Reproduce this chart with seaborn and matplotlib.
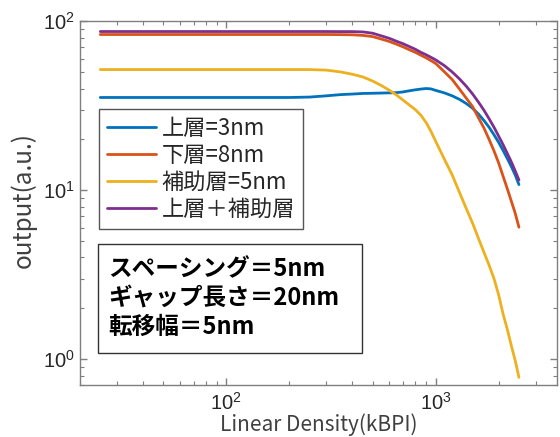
import numpy as np
import pandas as pd
import matplotlib
matplotlib.use("Agg")
import matplotlib.pyplot as plt
from matplotlib.patches import Rectangle
from matplotlib.ticker import LogLocator, NullFormatter
import seaborn as sns

# Linear density sample points (kBPI)
density = [25, 50, 100, 150, 200, 250, 300, 350, 400, 450, 500, 550, 600, 650, 700,
           750, 800, 850, 900, 950, 1000, 1100, 1200, 1300, 1400, 1500, 1600, 1700,
           1800, 1900, 2000, 2100, 2200, 2300, 2400, 2500]

# Output (a.u.) for each layer configuration
upper_3nm = [35.4, 35.4, 35.4, 35.4, 35.4, 35.6, 36.2, 36.8, 37.1, 37.4, 37.5, 37.6,
             37.7, 37.8, 38.2, 38.8, 39.3, 39.7, 40.0, 39.8, 39.0, 37.7, 36.2, 34.5,
             32.6, 30.6, 28.3, 25.9, 23.6, 21.3, 19.2, 17.2, 15.4, 13.8, 12.3, 10.8]
lower_8nm = [83.5, 83.5, 83.5, 83.5, 83.5, 83.5, 83.5, 83.4, 83.2, 82.5, 81.2, 78.5,
             76.0, 73.2, 70.5, 67.8, 65.5, 63.0, 60.8, 58.5, 56.3, 50.3, 45.2, 39.7,
             35.1, 31.3, 26.9, 23.4, 20.0, 17.1, 14.5, 12.1, 10.2, 8.6, 7.3, 6.04]
assist_5nm = [51.8, 51.8, 51.8, 51.8, 51.8, 51.8, 51.4, 50.2, 48.6, 46.8, 44.3, 41.7,
              39.1, 36.6, 34.1, 31.9, 30.0, 27.8, 25.2, 22.3, 19.5, 15.3, 12.3, 9.7,
              7.8, 6.4, 5.2, 4.3, 3.6, 3.0, 2.4, 1.85, 1.5, 1.2, 0.98, 0.78]
upper_assist = [87.0, 87.0, 87.0, 87.0, 87.0, 87.0, 87.0, 86.9, 86.9, 86.5, 85.0, 82.0,
                79.3, 76.2, 73.6, 70.8, 68.3, 65.5, 63.4, 61.2, 59.1, 54.7, 50.1, 45.6,
                41.3, 37.2, 33.3, 29.8, 26.5, 23.6, 20.9, 18.6, 16.5, 14.7, 13.0, 11.5]

labels = ["上層=3nm", "下層=8nm", "補助層=5nm", "上層＋補助層"]
colors = ["#0072BD", "#D95319", "#EDB120", "#7E2F8E"]
info_lines = ["スペーシング＝5nm", "ギャップ長さ＝20nm", "転移幅＝5nm"]

df = pd.concat([
    pd.DataFrame({"density": density, "output": vals, "series": lab})
    for lab, vals in zip(labels, [upper_3nm, lower_8nm, assist_5nm, upper_assist])
], ignore_index=True)

sns.set_theme(style="ticks")
plt.rcParams["font.family"] = ["Noto Sans CJK JP", "DejaVu Sans"]
plt.rcParams["axes.unicode_minus"] = False

fig = plt.figure(figsize=(5.6, 4.37), dpi=100)
ax = fig.add_axes([80 / 560, 1 - 385.3 / 437, 477 / 560, 364 / 437])

sns.lineplot(data=df, x="density", y="output", hue="series", hue_order=labels,
             palette=colors, linewidth=2.0, sort=False, estimator=None,
             legend=False, ax=ax)
for ln in ax.get_lines():
    ln.set_solid_joinstyle("round")

ax.set_xscale("log")
ax.set_yscale("log")
ax.set_xlim(20, 3800)
ax.set_ylim(0.70, 100)

axis_gray = "#7f7f7f"
for sp in ax.spines.values():
    sp.set_color(axis_gray)
    sp.set_linewidth(1.0)
    sp.set_visible(True)

ax.xaxis.set_major_locator(LogLocator(base=10))
ax.yaxis.set_major_locator(LogLocator(base=10))
ax.xaxis.set_minor_locator(LogLocator(base=10, subs=np.arange(2, 10)))
ax.yaxis.set_minor_locator(LogLocator(base=10, subs=np.arange(2, 10)))
ax.xaxis.set_minor_formatter(NullFormatter())
ax.yaxis.set_minor_formatter(NullFormatter())
ax.tick_params(which="both", direction="in", top=True, right=True,
               color=axis_gray, labelcolor="#262626", labelsize=14.5,
               labelfontfamily="Liberation Sans")
ax.tick_params(which="major", length=5, width=1)
ax.tick_params(which="minor", length=3, width=0.8)
ax.tick_params(axis="x", which="major", pad=5)
ax.tick_params(axis="y", which="major", pad=4)

ax.set_xlabel("Linear Density(kBPI)", fontsize=15, color="#404040")
ax.xaxis.set_label_coords(0.5, (385.3 - 413) / 364)
ax.set_ylabel("output(a.u.)", fontsize=17.5, color="#404040")
ax.yaxis.set_label_coords((37 - 80) / 477, (385.3 - 200.5) / 364)

handles = [plt.Line2D([], [], color=c, lw=2.0) for c in colors]
leg = ax.legend(handles, labels, loc="upper left",
                bbox_to_anchor=((99.3 - 80) / 477, (385.3 - 109.3) / 364),
                borderaxespad=0, fontsize=16, frameon=True, fancybox=False,
                handlelength=2.2, handletextpad=0.25, labelspacing=0.18,
                borderpad=0.35)
leg.get_frame().set_edgecolor("#555555")
leg.get_frame().set_linewidth(1.0)
leg.get_frame().set_alpha(1)

box = Rectangle(((97.7 - 80) / 477, (385.3 - 353.3) / 364),
                (362 - 97.7) / 477, (353.3 - 244.3) / 364,
                transform=ax.transAxes, facecolor="white", edgecolor="#333333",
                linewidth=1.0, zorder=5)
ax.add_patch(box)
for i, line in enumerate(info_lines):
    ax.text((108 - 80) / 477, (385.3 - (269 + 29 * i)) / 364, line,
            transform=ax.transAxes, ha="left", va="center",
            fontsize=17, fontweight="bold", color="black", zorder=6)

fig.savefig("out.png", dpi=100)
